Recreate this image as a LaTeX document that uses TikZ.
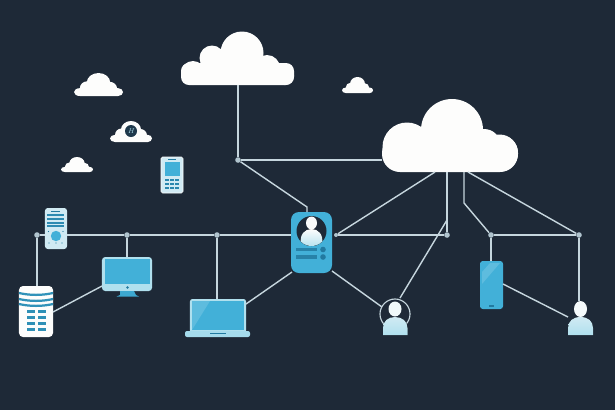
\documentclass[tikz,border=0pt]{standalone}
\usepackage{tikz}
\usetikzlibrary{shapes.geometric}
\definecolor{night}{RGB}{30,41,55}
\definecolor{wire}{RGB}{198,214,222}
\definecolor{dotgray}{RGB}{176,196,206}
\definecolor{skyblue}{RGB}{66,176,216}
\definecolor{deepblue}{RGB}{34,122,160}
\definecolor{paleblue}{RGB}{176,224,238}
\definecolor{iceblue}{RGB}{208,234,243}
\definecolor{snow}{RGB}{253,253,252}
\tikzset{
	device/.style={rectangle, inner sep=0pt, outer sep=0pt},
	hub/.style={circle, fill=dotgray, inner sep=0pt, minimum size=0.14cm},
	wireline/.style={line width=1pt, wire},
	cloudbox/.style={rectangle, inner sep=0pt, outer sep=0pt}
}
% small cloud: left, right, top, bottom
\newcommand{\smallcloud}[4]{
	\begin{scope}[shift={(#1,#4)}, x={({(#2-#1)*0.025cm},0)}, y={(0,{(#4-#3)*0.025cm})}]
		\fill[snow] (0.12,0) -- (0.9,0) arc (-90:90:0.1 and 0.17) -- (0.12,0.34) arc (90:270:0.12 and 0.17) -- cycle;
		\fill[snow] (0.5,0.58) ellipse (0.24 and 0.42);
		\fill[snow] (0.27,0.34) ellipse (0.15 and 0.3);
		\fill[snow] (0.72,0.32) ellipse (0.16 and 0.3);
	\end{scope}
}

\begin{document}
\begin{tikzpicture}[x=0.025cm,y=-0.025cm]

\useasboundingbox (0,0) rectangle (615,410);
\fill[night] (0,0) rectangle (615,410);

%Wolke oben
\node (cloudtop) [cloudbox, minimum width=2.85cm, minimum height=1.325cm] at (238,58.5) {};
\fill[snow, rounded corners=0.2cm] (181,63) rectangle (294,85);
\fill[snow] (193,73) circle (12);
\fill[snow] (212,58) circle (12.5);
\fill[snow] (242,53) circle (21.5);
\fill[snow] (267,68) circle (13);
\fill[snow] (284.5,75.5) circle (9.5);

%Wolke rechts
\node (cloudbig) [cloudbox, minimum width=3.4cm, minimum height=1.825cm] at (450,135.5) {};
\fill[snow, rounded corners=0.45cm] (382,135) rectangle (518,172);
\fill[snow] (407,147) circle (24.5);
\fill[snow] (452,130) circle (31);
\fill[snow] (484,146) circle (17);
\fill[snow] (499.5,153) circle (18.5);

%kleine Wolken
\smallcloud{74}{123}{73}{96}
\smallcloud{110}{152}{121}{142}
\smallcloud{61}{93}{157}{172}
\smallcloud{342}{373}{77}{93}
\node (cloudmark) [circle, fill=night!80!deepblue, inner sep=0pt, minimum size=0.3cm, text=paleblue, font=\fontsize{5}{5}\selectfont\itshape] at (131,131) {H};

%Handy oben
\node (keyphone) [device, fill=iceblue, draw=snow, rounded corners=0.04cm, minimum width=0.55cm, minimum height=0.9cm] at (172,175) {};
\fill[skyblue] (164.5,162) rectangle (179.5,176);
\fill[deepblue] (168,159) rectangle (176,160);
\foreach \row in {178.5,182.5,186.5}
	\foreach \col in {165,170,175}
		\fill[deepblue!75!skyblue] (\col,\row) rectangle +(4,2);

%Geraet links oben
\node (remote) [device, fill=iceblue, rounded corners=0.07cm, minimum width=0.55cm, minimum height=1.025cm] at (56,228.5) {};
\fill[deepblue] (51,210.5) rectangle (60,211.5);
\foreach \row in {214,218,222,225}
	\fill[deepblue!70!skyblue] (47,\row) rectangle (64,\row+1.5);
\fill[skyblue] (56,236) circle (5.2);
\foreach \col in {49,56,62}
	\fill[deepblue] (\col,243) circle (0.7);
\fill[deepblue] (48.5,231.5) circle (0.7);
\fill[deepblue] (63,231.5) circle (0.7);

%Server
\node (server) [device, fill=snow, rounded corners=0.1cm, minimum width=0.85cm, minimum height=1.275cm] at (36,311.5) {};
\foreach \row in {293,299,304}
	\draw[line width=1.6pt, deepblue!55!skyblue] (19,\row) .. controls (30,\row+2.5) and (42,\row+2.5) .. (53,\row);
\foreach \row in {310,316,322,328}{
	\fill[deepblue!60!skyblue] (27,\row) rectangle (34.5,\row+2.5);
	\fill[deepblue!60!skyblue] (38,\row) rectangle (45.5,\row+2.5);
}

%Monitor
\node (monitor) [device, fill=paleblue, rounded corners=0.08cm, minimum width=1.25cm, minimum height=0.85cm] at (127,274) {};
\fill[skyblue] (105,259) rectangle (149.5,284);
\fill[skyblue!85!deepblue] (120,291) -- (134,291) -- (136,295) -- (139,296.5) -- (116.5,296.5) -- (120,295) -- cycle;
\fill[deepblue] (127.5,287.5) circle (1.4);

%Laptop
\node (laptop) [device, fill=paleblue, rounded corners=0.06cm, minimum width=1.4cm, minimum height=0.85cm] at (218,316) {};
\fill[skyblue] (192,301) rectangle (244,330);
\fill[skyblue!85!white] (192,330) -- (210,301) -- (192,301) -- cycle;
\fill[paleblue!90!skyblue, rounded corners=0.05cm] (185,331) rectangle (250,337);
\fill[deepblue] (210,332.5) rectangle (226,333.8);

%Ausweis
\node (card) [device, fill=skyblue, rounded corners=0.2cm, minimum width=1.025cm, minimum height=1.525cm] at (311.5,242.5) {};
\fill[night] (311.5,231) circle (15);
\begin{scope}
	\clip (311.5,231) circle (15);
	\fill[top color=snow, bottom color=paleblue] (301,245) .. controls (299,234) and (305,229) .. (311.5,229) .. controls (318,229) and (324,234) .. (322,245) .. controls (318,248) and (305,248) .. (301,245) -- cycle;
\end{scope}
\fill[snow!95!paleblue] (311.5,223) ellipse (5.5 and 6.5);
\fill[deepblue!85!skyblue] (296,247.5) rectangle (317,251);
\fill[deepblue!85!skyblue] (296,255) rectangle (317,258.5);
\fill[deepblue] (323,249.5) circle (2.8);
\fill[deepblue] (323,257) circle (2.8);

%Handy rechts
\node (phone) [device, fill=skyblue, rounded corners=0.07cm, minimum width=0.575cm, minimum height=1.2cm] at (491.5,285) {};
\fill[skyblue!85!white] (482,284) -- (500,263) -- (490,263) -- (482,272) -- cycle;
\fill[deepblue] (489,305) rectangle (494,307);

%Personen
\node (userleft) [circle, draw=wire, thick, inner sep=0pt, minimum size=0.75cm] at (395,314) {};
\fill[top color=iceblue, bottom color=paleblue] (383,335) -- (383,328) .. controls (383,321) and (388,317) .. (395,317) .. controls (402,317) and (407.5,321) .. (407.5,328) -- (407.5,335) -- cycle;
\fill[snow!85!paleblue] (395,309) ellipse (6.5 and 7.5);
\fill[top color=iceblue, bottom color=paleblue] (568,335) -- (568,328) .. controls (568,321) and (573,317) .. (580.5,317) .. controls (588,317) and (593,321) .. (593,328) -- (593,335) -- cycle;
\node (userright) [ellipse, fill=snow!90!paleblue, inner sep=0pt, minimum width=0.325cm, minimum height=0.4cm] at (580.5,309) {};

%Knotenpunkte
\node (hubserver) [hub] at (37,235) {};
\node (hubmonitor) [hub] at (127,235) {};
\node (hublaptop) [hub] at (217,235) {};
\node (hubtop) [hub] at (238,160) {};
\node (hubmid) [hub] at (447,235) {};
\node (hubphone) [hub] at (491,235) {};
\node (hubuser) [hub] at (579,235) {};
\node (hubcard) [circle, fill=dotgray, inner sep=0pt, minimum size=0.1cm] at (336,235) {};

\coordinate (bendcard) at (307,207);
\coordinate (bendbig) at (464,203);
\coordinate (branchuser) at (447,220);
\coordinate (bigleft) at (435,172);
\coordinate (bigmid) at (447,172);
\coordinate (bigright) at (464,172);
\coordinate (bigfar) at (468,172);
\coordinate (cardlow) at (332,271);
\coordinate (cardleft) at (292,272);
\coordinate (userlefta) at (382,307);
\coordinate (userleftb) at (400,298);
\coordinate (userrighta) at (568,317);
\coordinate (laptopside) at (246,304);
\coordinate (monitorside) at (102,286);
\coordinate (serverside) at (53,312);
\coordinate (phoneside) at (503,284);

%Leitungen
\draw[wireline] (cloudtop.south) -- (hubtop);
\draw[wireline] (hubtop) -- (hubtop -| cloudbig.west);
\draw[wireline] (hubtop) -- (bendcard) -- (bendcard |- card.north);
\draw[wireline] (hubserver) -- (hubserver |- server.north);
\draw[wireline] (hubserver) -- (hubserver -| remote.west);
\draw[wireline] (hubserver -| remote.east) -- (hubmonitor);
\draw[wireline] (hubmonitor) -- (hublaptop);
\draw[wireline] (hublaptop) -- (hublaptop -| card.west);
\draw[wireline] (hubmonitor) -- (monitor.north);
\draw[wireline] (hublaptop) -- (hublaptop |- laptop.north);
\draw[wireline] (monitorside) -- (serverside);
\draw[wireline] (cardleft) -- (laptopside);
\draw[wireline] (bigleft) -- (hubcard);
\draw[wireline] (hubcard) -- (hubmid);
\draw[wireline] (bigmid) -- (hubmid);
\draw[wireline] (bigright) -- (bendbig) -- (hubphone);
\draw[wireline] (bigfar) -- (hubuser);
\draw[wireline] (hubphone) -- (hubuser);
\draw[wireline] (hubphone) -- (phone.north -| hubphone);
\draw[wireline] (hubuser) -- (userright.north -| hubuser);
\draw[wireline] (branchuser) -- (userleftb);
\draw[wireline] (cardlow) -- (userlefta);
\draw[wireline] (phoneside) -- (userrighta);

\end{tikzpicture}
\end{document}
